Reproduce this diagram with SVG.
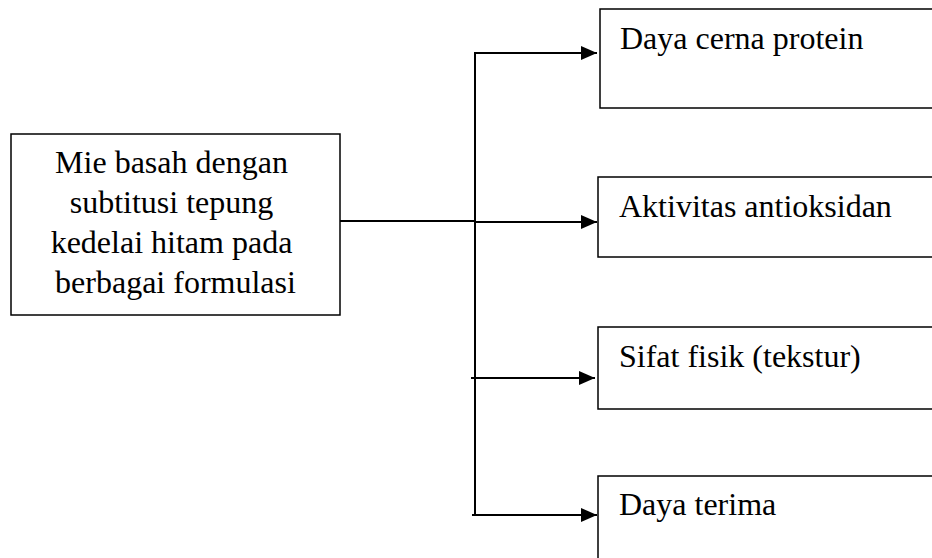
<svg xmlns="http://www.w3.org/2000/svg" width="932" height="558" viewBox="0 0 932 558">
  <style>
    .box { fill: #fff; stroke: #000; stroke-width: 1.5; }
    .lbl { font-family: "Liberation Serif", "Times New Roman", serif; font-size: 32px; fill: #000; }
    .conn { fill: none; stroke: #000; stroke-width: 2; }
  </style>
  <defs>
    <marker id="arr" markerUnits="userSpaceOnUse" markerWidth="17" markerHeight="16" refX="16" refY="8" orient="auto">
      <path d="M0,1 L16,8 L0,15 Z" fill="#000"/>
    </marker>
  </defs>
  <rect width="932" height="558" fill="#fff"/>
  <g id="source">
    <rect class="box" x="11" y="134" width="329" height="181"/>
    <text class="lbl" text-anchor="middle">
      <tspan x="175.5" y="173">Mie basah dengan</tspan>
      <tspan x="175.5" y="213">subtitusi tepung</tspan>
      <tspan x="175.5" y="253">kedelai hitam pada</tspan>
      <tspan x="175.5" y="293">berbagai formulasi</tspan>
    </text>
  </g>
  <g id="daya-cerna">
    <rect class="box" x="600" y="9" width="340" height="99"/>
    <text class="lbl" x="620" y="49">Daya cerna protein</text>
  </g>
  <g id="antioksidan">
    <rect class="box" x="598" y="177" width="342" height="80"/>
    <text class="lbl" x="619" y="217">Aktivitas antioksidan</text>
  </g>
  <g id="sifat-fisik">
    <rect class="box" x="598" y="327" width="342" height="82"/>
    <text class="lbl" x="619" y="367">Sifat fisik (tekstur)</text>
  </g>
  <g id="daya-terima">
    <rect class="box" x="598" y="476" width="342" height="100"/>
    <text class="lbl" x="619" y="515">Daya terima</text>
  </g>
  <g id="connectors">
    <line class="conn" x1="340" y1="221" x2="475" y2="221"/>
    <line class="conn" x1="475" y1="52" x2="475" y2="516"/>
    <line class="conn" x1="474" y1="53" x2="597" y2="53" marker-end="url(#arr)"/>
    <line class="conn" x1="475" y1="222" x2="597" y2="222" marker-end="url(#arr)"/>
    <line class="conn" x1="471" y1="378" x2="595" y2="378" marker-end="url(#arr)"/>
    <line class="conn" x1="472" y1="515" x2="597" y2="515" marker-end="url(#arr)"/>
  </g>
</svg>
